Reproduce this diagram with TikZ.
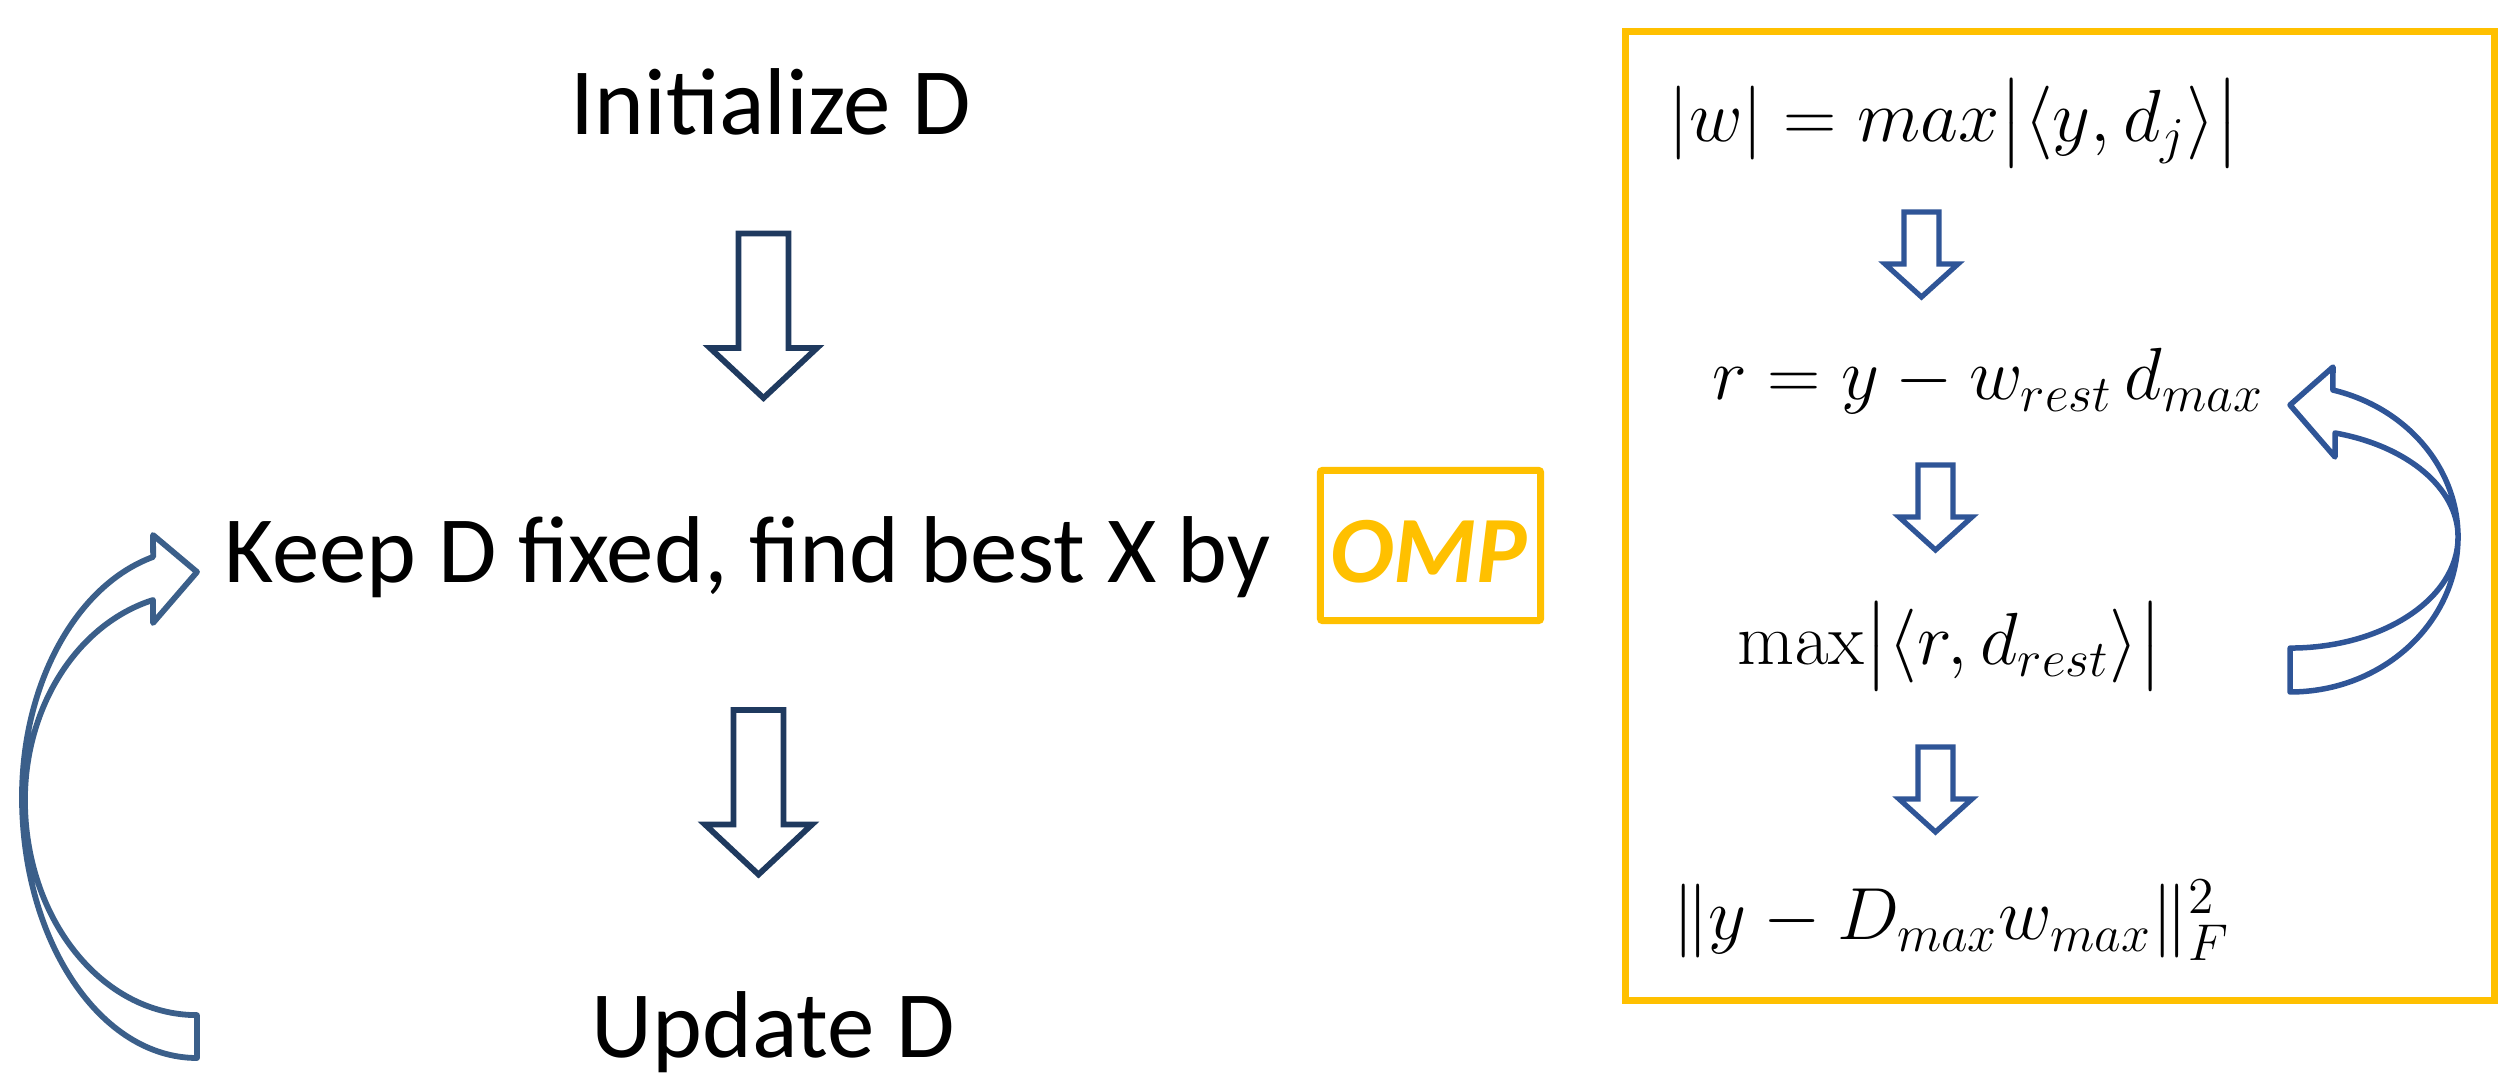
\RequirePackage{fix-cm}
\documentclass[tikz,border=0pt]{standalone}
\usepackage[no-math]{fontspec}
\setmainfont{Carlito}
\usepackage{amsmath}
\definecolor{ompc}{HTML}{FFC000}
\definecolor{navyc}{HTML}{1F3A5F}
\definecolor{loopL}{HTML}{3B5F8A}
\definecolor{loopR}{HTML}{2F5597}
\newcommand\mainsz{\fontsize{27}{32}\selectfont}
\newcommand\mathsz{\fontsize{21}{25}\selectfont}
\tikzset{
  txt/.style={inner sep=0pt, font=\mainsz},
  formula/.style={inner sep=0pt, font=\mathsz, anchor=base},
  bigarrow/.style={draw=navyc, line width=0.058cm, line join=miter},
  smallarrow/.style={draw=loopR, line width=0.052cm, line join=miter},
  loopleft/.style={draw=loopL, line width=0.058cm, line join=round},
  loopright/.style={draw=loopR, line width=0.055cm, line join=round},
  frame/.style={draw=ompc, line width=0.07cm, inner sep=0pt},
  bigdn/.pic={\path[bigarrow] (-25,0) -- (25,0) -- (25,-114.5) -- (53.5,-114.5) -- (0,-164.5) -- (-53.5,-114.5) -- (-25,-114.5) -- cycle;},
  smalldn/.pic={\path[smallarrow] (-17.5,0) -- (17.5,0) -- (17.5,-52) -- (36.5,-52) -- (0,-85) -- (-36.5,-52) -- (-17.5,-52) -- cycle;}
}
\begin{document}
\begin{tikzpicture}[x=0.01cm, y=0.01cm]
\useasboundingbox (0,0) rectangle (2505,-1080);

% left column
\node[txt, anchor=base] (init) at (771,-135) {Initialize D};
\node[txt, anchor=base west] (keep) at (224,-583) {Keep D fixed, find best X by};
\node[txt, anchor=base] (update) at (773,-1058) {Update D};
\node[frame, rounded corners=0.02cm, minimum width=2.2cm, minimum height=1.5cm] (ompbox) at (1430.5,-545.5) {};
\node[txt, anchor=base, text=ompc, font=\mainsz\bfseries\itshape] (omptxt) at (1429,-583) {OMP};

\pic at (763.5,-233.5) {bigdn};
\pic at (758.5,-710) {bigdn};

% left loop arrow
\path[loopleft] (197,-1058)
  arc[start angle=270, end angle=180, x radius=175, y radius=261]
  arc[start angle=180, end angle=104.5, x radius=175, y radius=248]
  -- (153,-535) -- (197,-572) -- (153,-623) -- (153,-600)
  arc[start angle=104.8, end angle=180, x radius=172, y radius=207]
  arc[start angle=180, end angle=270, x radius=172, y radius=215]
  -- cycle;

% right frame
\node[frame, minimum width=8.685cm, minimum height=9.685cm] (ompframe) at (2059.75,-516.25) {};

\node[formula] (f1) at (1954,-142) {$|w| = max\bigl|\langle y, d_j\rangle\bigr|$};
\node[formula] (f2) at (1988,-400) {$r = y - w_{rest}\, d_{max}$};
\node[formula] (f3) at (1950,-665) {$\max\bigl|\langle r, d_{rest}\rangle\bigr|$};
\node[formula] (f4) at (1951,-940) {$\|y - D_{max} w_{max}\|_F^2$};

\pic at (1921.5,-212) {smalldn};
\pic at (1935.5,-465) {smalldn};
\pic at (1935.5,-747) {smalldn};

% right loop arrow
\path[loopright] (2290,-692)
  arc[start angle=270, end angle=360, x radius=168, y radius=155]
  arc[start angle=0, end angle=75.2, x radius=168, y radius=152]
  -- (2333,-367) -- (2290,-405) -- (2335,-457) -- (2335,-433)
  arc[start angle=74.5, end angle=0, x radius=168, y radius=108]
  arc[start angle=0, end angle=-90, x radius=168, y radius=111]
  -- cycle;
\end{tikzpicture}
\end{document}
